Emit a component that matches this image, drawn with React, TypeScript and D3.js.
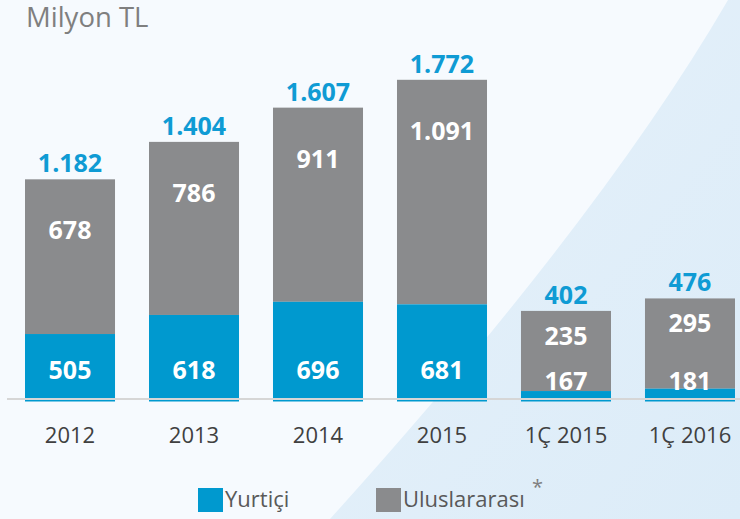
import React from "react";
import * as d3 from "d3";

const categories = ["2012", "2013", "2014", "2015", "1Ç 2015", "1Ç 2016"];
const domestic = [505, 618, 696, 681, 167, 181]; // Yurtiçi
const international = [678, 786, 911, 1091, 235, 295]; // Uluslararası
const totals = [1182, 1404, 1607, 1772, 402, 476];
const totalLabels = ["1.182", "1.404", "1.607", "1.772", "402", "476"];
const internationalLabels = ["678", "786", "911", "1.091", "235", "295"];
const domesticLabels = ["505", "618", "696", "681", "167", "181"];
const legendItems = ["Yurtiçi", "Uluslararası"];

const W = 740;
const H = 519;
const BLUE = "#0099cf";
const GRAY = "#8a8b8d";
const LABEL_BLUE = "#0f9bd4";
const FONT = "'Open Sans', 'Noto Sans', sans-serif";

// visual offsets (value units) used by the original slide's drawing
const TOTAL_OFFSET = 135;
const BLUE_OFFSET = -105;

export default function App() {
  const bottom = 401.5;
  const x = d3
    .scaleBand<string>()
    .domain(categories)
    .range([25, 735])
    .paddingInner(0.274)
    .paddingOuter(0);
  const maxT = d3.max(totals) as number;
  const y = d3
    .scaleLinear()
    .domain([0, maxT + TOTAL_OFFSET])
    .range([bottom, 79.8]);

  const bw = x.bandwidth();

  return (
    <svg
      width={W}
      height={H}
      style={{ position: "absolute", left: 0, top: 0, display: "block" }}
      fontFamily={FONT}
    >
      <defs>
        <linearGradient id="bgR" x1="0" y1="0" x2="1" y2="1">
          <stop offset="0" stopColor="#e6f1fa" />
          <stop offset="1" stopColor="#dcecf8" />
        </linearGradient>
      </defs>
      <rect x={0} y={0} width={W} height={H} fill="#f6fafe" />
      <path
        d="M 728 0 Q 600 220 330 519 L 740 519 L 740 0 Z"
        fill="url(#bgR)"
      />
      <text x={26} y={27} fontSize={27.5} fill="#7f7f7f">
        Milyon TL
      </text>

      {categories.map((c, i) => {
        const quarterly = c.startsWith("1Ç");
        const x0 = x(c) as number;
        const cx = x0 + bw / 2;
        const topTotal = y(totals[i] + TOTAL_OFFSET);
        const topBlue = y(domestic[i] + BLUE_OFFSET);
        return (
          <g key={c}>
            <rect
              x={x0}
              y={topTotal}
              width={bw}
              height={topBlue - topTotal}
              fill={GRAY}
            />
            <rect
              x={x0}
              y={topBlue}
              width={bw}
              height={bottom - topBlue}
              fill={BLUE}
            />
            <text
              x={cx}
              y={topTotal - 7}
              textAnchor="middle"
              fontSize={25}
              fontWeight={700}
              fill={LABEL_BLUE}
            >
              {totalLabels[i]}
            </text>
            <text
              x={cx}
              y={topTotal + (quarterly ? 34 : 60)}
              textAnchor="middle"
              fontSize={25}
              fontWeight={700}
              fill="#ffffff"
            >
              {internationalLabels[i]}
            </text>
            <text
              x={cx}
              y={quarterly ? 390 : 379}
              textAnchor="middle"
              fontSize={25}
              fontWeight={700}
              fill="#ffffff"
            >
              {domesticLabels[i]}
            </text>
            <text
              x={cx}
              y={443}
              textAnchor="middle"
              fontSize={22}
              fill="#404040"
            >
              {c}
            </text>
          </g>
        );
      })}
      <line x1={7} x2={740} y1={399} y2={399} stroke="#d6d6d6" strokeWidth={2} />

      {/* legend */}
      <rect x={198} y={488} width={25} height={24} fill={BLUE} />
      <text x={225} y={507} fontSize={22} fill="#595959">
        {legendItems[0]}
      </text>
      <rect x={376} y={488} width={25} height={24} fill={GRAY} />
      <text x={403} y={507} fontSize={22} fill="#595959">
        {legendItems[1]}
      </text>
      <text x={532} y={494} fontSize={20} fill="#7f7f7f">
        *
      </text>
    </svg>
  );
}
